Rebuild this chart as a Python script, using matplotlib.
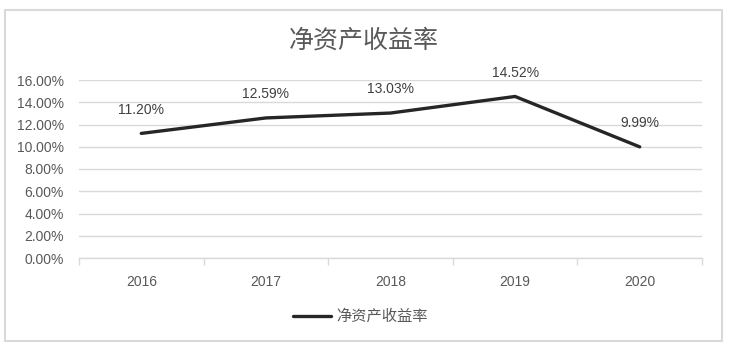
import matplotlib
matplotlib.use("Agg")
import matplotlib.pyplot as plt
from matplotlib.patches import Rectangle
from matplotlib.lines import Line2D

categories = ["2016", "2017", "2018", "2019", "2020"]
roe = [11.20, 12.59, 13.03, 14.52, 9.99]
yticks = [0, 2, 4, 6, 8, 10, 12, 14, 16]
title = "净资产收益率"
series_name = "净资产收益率"

plt.rcParams['font.family'] = ['Liberation Sans', 'Noto Sans CJK SC', 'DejaVu Sans']
cjk = ['Noto Sans CJK SC', 'DejaVu Sans']

W, H = 736, 346
fig = plt.figure(figsize=(W / 100, H / 100), dpi=100)
fig.patch.set_facecolor('white')

# outer border
fig.patches.append(Rectangle((5 / W, 5 / H), 717 / W, 331 / H, transform=fig.transFigure,
                             fill=False, edgecolor='#d9d9d9', linewidth=1.5))

ax = fig.add_axes([79 / W, 88 / H, 623 / W, 178 / H])
x = list(range(len(categories)))
ax.plot(x, roe, color='#262626', linewidth=2.4, solid_capstyle='round', solid_joinstyle='round')
for xi, v in zip(x, roe):
    ax.annotate(f"{v:.2f}%", (xi, v), xytext=(0, 17), textcoords='offset points',
                ha='center', va='center', fontsize=10, color='#404040')

ax.set_xlim(-0.5, len(categories) - 0.5)
ax.set_ylim(0, 16)
ax.set_yticks(yticks)
ax.set_yticklabels([f"{t:.2f}%" for t in yticks])
ax.grid(axis='y', color='#d9d9d9', linewidth=1)
ax.set_axisbelow(True)
for s in ['top', 'right', 'left']:
    ax.spines[s].set_visible(False)
ax.spines['bottom'].set_color('#d9d9d9')
ax.spines['bottom'].set_linewidth(1)
ax.tick_params(axis='y', length=0, pad=11, labelsize=10, labelcolor='#595959')
ax.set_xticks(x)
ax.set_xticklabels(categories)
ax.tick_params(axis='x', which='major', length=0, pad=12, labelsize=10, labelcolor='#595959')
ax.set_xticks([i - 0.5 for i in range(len(categories) + 1)], minor=True)
ax.tick_params(axis='x', which='minor', length=5, color='#d9d9d9', width=1)

fig.text(364 / W, 1 - 41 / H, title, ha='center', va='center', fontsize=18,
         color='#595959', family=cjk, fontweight='light')

# legend
fig.add_artist(Line2D([293 / W, 331 / W], [1 - 316 / H] * 2, transform=fig.transFigure,
                      color='#262626', linewidth=2.4, solid_capstyle='round'))
fig.text(336 / W, 1 - 316 / H, series_name, ha='left', va='center', fontsize=11,
         color='#595959', family=cjk)

fig.savefig("out.png", dpi=100)
